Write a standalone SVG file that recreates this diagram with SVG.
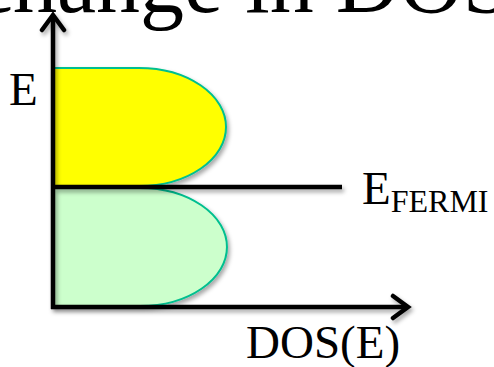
<svg xmlns="http://www.w3.org/2000/svg" width="494" height="367" viewBox="0 0 494 367">
  <style>
    .txt { font-family: "Liberation Serif", "Times New Roman", serif; fill: #000; }
    .band { stroke: #00BF8F; stroke-width: 2; filter: url(#shadow); }
    .axis { fill: none; stroke: #000; stroke-width: 4.5; }
  </style>
  <defs>
    <filter id="shadow" x="-10%" y="-10%" width="130%" height="130%">
      <feDropShadow dx="2" dy="3" stdDeviation="2" flood-color="#000" flood-opacity="0.35"/>
    </filter>
    <marker id="chevron" markerUnits="userSpaceOnUse" viewBox="-18 -14 22 28" markerWidth="22" markerHeight="28" refX="0" refY="0" orient="auto">
      <path d="M-15,-11 L0,0 L-15,11" fill="none" stroke="#000" stroke-width="4.5" stroke-linecap="round" stroke-linejoin="miter"/>
    </marker>
  </defs>

  <rect width="494" height="367" fill="#fff"/>

  <!-- heading, cut off by the top edge -->
  <g id="title">
    <text class="txt" x="-26" y="12" font-size="88">change in DOS</text>
  </g>

  <!-- occupied / empty states -->
  <g id="upper-band">
    <path class="band" d="M53,68 H139 A87,59 0 0 1 139,186 H53 Z" fill="#FFFF00"/>
  </g>
  <g id="lower-band">
    <path class="band" d="M53,188 H140 A87,59 0 0 1 140,306 H53 Z" fill="#CCFFCC"/>
  </g>

  <!-- axes and Fermi level -->
  <g id="connectors" filter="url(#shadow)">
    <path class="axis" d="M53,309 V15" marker-end="url(#chevron)"/>
    <path class="axis" d="M51,307 H408" marker-end="url(#chevron)"/>
    <path class="axis" d="M53,187 H342"/>
  </g>

  <g id="label-e">
    <text class="txt" x="9" y="105" font-size="47">E</text>
  </g>
  <g id="label-fermi">
    <text class="txt" x="362" y="204" font-size="47">E<tspan font-size="32" dy="8">FERMI</tspan></text>
  </g>
  <g id="label-dos">
    <text class="txt" x="246" y="358" font-size="47">DOS(E)</text>
  </g>
</svg>
